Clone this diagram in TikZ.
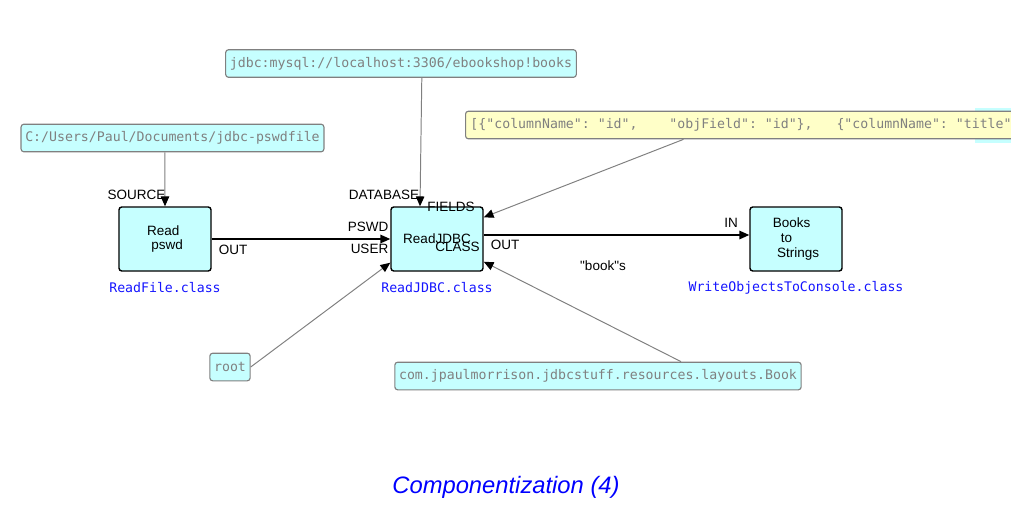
\documentclass[tikz,border=0pt]{standalone}
\usepackage{fontspec}
\setmainfont{Liberation Sans}
\setmonofont{DejaVu Sans Mono}
\usetikzlibrary{arrows.meta}
\definecolor{boxcyan}{RGB}{198,255,255}
\definecolor{noteyellow}{RGB}{255,255,200}
\definecolor{iipgray}{RGB}{128,128,128}
\definecolor{clsblue}{RGB}{20,20,255}

\begin{document}
\begin{tikzpicture}[x=0.025cm, y=-0.025cm,
  comp/.style={draw=black, line width=1pt, fill=boxcyan, rounded corners=2pt, minimum width=2.3cm, minimum height=1.6cm, align=left, font=\fontsize{9.6}{10.6}\selectfont},
  iip/.style={draw=iipgray, line width=0.8pt, fill=boxcyan, rounded corners=2pt, text=iipgray, inner xsep=3pt, inner ysep=0pt, minimum height=0.69cm, font=\ttfamily\fontsize{9.4}{11}\selectfont},
  cls/.style={text=clsblue, inner sep=0pt, font=\ttfamily\fontsize{9.4}{11}\selectfont},
  port/.style={inner sep=0pt, font=\fontsize{9.6}{11}\selectfont},
  iiparrow/.style={draw=iipgray, line width=0.7pt, -{Triangle[color=black, fill=black, length=7pt, width=6pt]}},
  flow/.style={draw=black, line width=1pt, -{Triangle[length=7pt, width=6pt]}}]
  \useasboundingbox (0,0) rectangle (1011,509);
  \clip (0,0) rectangle (1011,509);

  \node[comp] (readpswd) at (165,239) {Read\\\hspace*{3pt}pswd};
  \node[comp] (readjdbc) at (437,239) {ReadJDBC};
  \node[comp] (books) at (796,239) {Books\\\hspace*{5.7pt}to\\\hspace*{2.9pt}Strings};

  \node[cls] (readpswdcls) at (165,288) {ReadFile.class};
  \node[cls] (readjdbccls) at (437,288) {ReadJDBC.class};
  \node[cls] (bookscls) at (796,288) {WriteObjectsToConsole.class};

  \node[fill=boxcyan, anchor=west, minimum width=2cm, minimum height=0.875cm, inner sep=0pt] (hidden) at (975,125) {};
  \node[iip] (dburl) at (401,63.5) {jdbc:mysql://localhost:3306/ebookshop!books};
  \node[iip] (pswdfile) at (172.5,138) {C:/Users/Paul/Documents/jdbc-pswdfile};
  \node[iip] (user) at (230,367) {root};
  \node[iip] (layout) at (598,376) {com.jpaulmorrison.jdbcstuff.resources.layouts.Book};
  \node[iip, fill=noteyellow, anchor=west, text width=14.5cm, align=left, inner xsep=3.5pt] (fields) at (465,125)
    {[\{"columnName":\phantom{x}"id",\phantom{xxxx}"objField":\phantom{x}"id"\},\phantom{xxx}\{"columnName":\phantom{x}"title"};

  \node[port] (source) at (136.5,195) {SOURCE};
  \node[port] (pswdout) at (233,250) {OUT};
  \node[port] (database) at (384,195) {DATABASE};
  \node[port] (fieldsin) at (451,207) {FIELDS};
  \node[port] (pswdin) at (368,227) {PSWD};
  \node[port] (userin) at (369.5,249) {USER};
  \node[port] (classin) at (457.5,247) {CLASS};
  \node[port] (jdbcout) at (505,245) {OUT};
  \node[port] (booksin) at (731,223) {IN};
  \node[port] (bookslbl) at (603,266) {\textquotedbl book\textquotedbl s};

  \draw[iiparrow] ([xshift=-0.19cm]pswdfile.south) -- (readpswd.north);
  \draw[iiparrow] ([xshift=0.52cm]dburl.south) -- ([xshift=-0.425cm]readjdbc.north);
  \draw[iiparrow] ([xshift=5.46cm]fields.south west) -- ([yshift=-0.275cm]readjdbc.north east);
  \draw[iiparrow] (user.east) -- ([yshift=0.225cm]readjdbc.south west);
  \draw[iiparrow] ([xshift=2.075cm]layout.north) -- ([yshift=0.25cm]readjdbc.south east);
  \draw[flow] (readpswd.east) -- (readjdbc.west);
  \draw[flow] ([yshift=0.1cm]readjdbc.east) -- ([yshift=0.1cm]books.west);

  \node[text=blue, font=\itshape\fontsize{16.9}{20}\selectfont] (title) at (506,487) {Componentization (4)};
\end{tikzpicture}
\end{document}
